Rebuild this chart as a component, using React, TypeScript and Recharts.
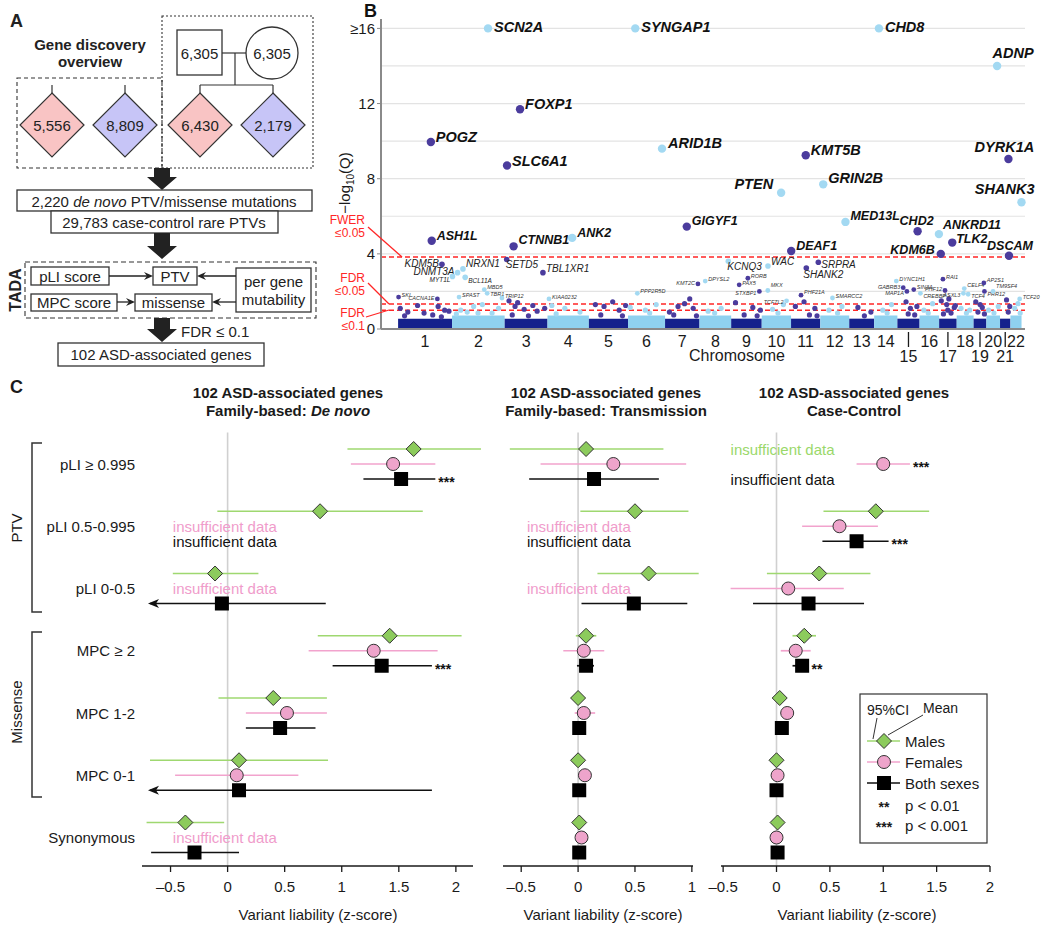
import React from "react";
import {
  ScatterChart,
  Scatter,
  XAxis,
  YAxis,
  ReferenceLine,
  ReferenceArea,
  ReferenceDot,
  ErrorBar,
} from "recharts";

const FONT = '"Liberation Sans", Arial, Helvetica, sans-serif';

// ---------- Panel B data ----------
// chromosome lengths in Mb (hg19)
const CHROM_LENGTHS = [
  249.3, 243.2, 198.0, 191.2, 180.9, 171.1, 159.1, 146.4, 141.2, 135.5, 135.0,
  133.9, 115.2, 107.3, 102.5, 90.4, 81.2, 78.1, 59.1, 63.0, 48.1, 51.3,
];
const CHROMS = CHROM_LENGTHS.map((_, i) => i + 1);
const LOWER_TICK_CHROMS = [15, 17, 19, 21];
const Y_TICKS = [0, 4, 8, 12, 16];
const GRID_Y = [2, 4, 6, 8, 10, 12, 14, 16];
const THRESHOLDS = [3.83, 1.33, 1.0]; // FWER 0.05, FDR 0.05, FDR 0.1

// [gene, chromosome, Mb, -log10(Q)]
const FWER_GENES = [
  ["SCN2A", 2, 166.2, 16],
  ["SYNGAP1", 6, 33.4, 16],
  ["CHD8", 14, 21.9, 16],
  ["ADNP", 20, 49.5, 14.0],
  ["FOXP1", 3, 71.0, 11.7],
  ["POGZ", 1, 151.4, 9.95],
  ["ARID1B", 6, 157.0, 9.6],
  ["KMT5B", 11, 67.9, 9.25],
  ["DYRK1A", 21, 38.8, 9.05],
  ["SLC6A1", 3, 11.0, 8.7],
  ["GRIN2B", 12, 13.7, 7.7],
  ["PTEN", 10, 89.6, 7.25],
  ["SHANK3", 22, 51.1, 6.75],
  ["MED13L", 12, 116.4, 5.7],
  ["GIGYF1", 7, 100.3, 5.45],
  ["CHD2", 15, 93.4, 5.2],
  ["ANKRD11", 16, 89.4, 5.05],
  ["ANK2", 4, 114.0, 4.85],
  ["ASH1L", 1, 155.4, 4.7],
  ["TLK2", 17, 60.6, 4.6],
  ["CTNNB1", 3, 41.2, 4.4],
  ["DEAF1", 11, 0.7, 4.15],
  ["KDM6B", 17, 7.7, 4.0],
  ["DSCAM", 21, 41.4, 3.9],
];

const FDR_GENES = [
  ["SETD5", 3, 9.5, 3.7],
  ["KCNQ3", 8, 133.2, 3.6],
  ["SRPRA", 11, 126.1, 3.55],
  ["KDM5B", 1, 202.7, 3.45],
  ["WAC", 10, 28.8, 3.35],
  ["SHANK2", 11, 70.5, 3.25],
  ["NRXN1", 2, 50.5, 3.2],
  ["DNMT3A", 2, 25.5, 3.0],
  ["TBL1XR1", 3, 176.8, 3.0],
  ["MYT1L", 2, 2.0, 2.8],
  ["BCL11A", 2, 60.7, 2.75],
];

const MINOR_GENES = [
  ["SKI", 1, 2.2, 1.7],
  ["CACNA1E", 1, 181.5, 1.6],
  ["SPAST", 2, 32.3, 1.7],
  ["MBD5", 2, 149.0, 2.1],
  ["TBR1", 2, 162.3, 1.9],
  ["TRIP12", 2, 230.6, 1.65],
  ["KIAA0232", 4, 6.8, 1.6],
  ["PPP2R5D", 6, 42.9, 1.9],
  ["KMT2C", 7, 151.9, 2.4],
  ["DPYSL2", 8, 26.5, 2.55],
  ["PAX5", 9, 37.0, 2.35],
  ["RORB", 9, 77.1, 2.7],
  ["STXBP1", 9, 130.4, 2.0],
  ["MKX", 10, 28.0, 2.05],
  ["TCF7L2", 10, 114.7, 1.5],
  ["PHF21A", 11, 46.0, 1.8],
  ["SMARCC2", 12, 56.5, 1.65],
  ["DYNC1H1", 14, 102.4, 2.55],
  ["GABRB3", 15, 27.0, 2.2],
  ["MAP1A", 15, 43.8, 2.0],
  ["SIN3A", 15, 75.7, 2.1],
  ["CREBBP", 16, 3.8, 1.9],
  ["RAI1", 17, 17.6, 2.65],
  ["PHF12", 17, 27.2, 2.05],
  ["ASXL3", 18, 31.1, 1.9],
  ["CELF4", 18, 35.0, 2.15],
  ["TCF4", 18, 53.0, 1.85],
  ["AP2S1", 19, 47.3, 2.45],
  ["PRR12", 19, 50.1, 2.0],
  ["TM9SF4", 20, 30.7, 2.0],
  ["TCF20", 22, 42.6, 1.6],
];

// unlabeled genes in and just above the dense band: [chromosome, Mb, -log10(Q)]
const BACKGROUND_DOTS = [
  [1, 10, 1.1], [1, 45, 0.9], [1, 90, 1.25], [1, 120, 0.85], [1, 185, 1.2], [1, 215, 1.0], [1, 235, 0.95], [1, 30, 0.7], [1, 160, 0.75], [1, 200, 0.65],
  [2, 40, 1.0], [2, 70, 0.9], [2, 100, 1.2], [2, 140, 1.3], [2, 185, 0.85], [2, 215, 1.1], [2, 20, 0.8], [2, 120, 0.85],
  [3, 20, 1.5], [3, 48, 1.2], [3, 60, 1.4], [3, 90, 1.05], [3, 130, 1.25], [3, 150, 0.95], [3, 185, 1.1], [3, 35, 0.75], [3, 110, 0.7],
  [4, 20, 1.25], [4, 80, 1.1], [4, 150, 0.9], [4, 40, 0.8],
  [5, 30, 1.3], [5, 70, 1.2], [5, 110, 1.45], [5, 140, 1.0], [5, 170, 1.25], [5, 55, 0.75], [5, 155, 0.7],
  [6, 10, 1.15], [6, 80, 1.0], [6, 130, 1.3], [6, 100, 0.85],
  [7, 20, 0.9], [7, 60, 1.2], [7, 90, 1.35], [7, 130, 1.1], [7, 114, 1.6], [7, 40, 0.75], [7, 145, 0.7],
  [8, 40, 0.95], [8, 100, 1.1], [8, 70, 0.85],
  [9, 20, 1.4], [9, 100, 1.15], [9, 135, 1.0], [9, 60, 0.75], [9, 120, 0.7],
  [10, 50, 1.05], [10, 100, 1.3], [10, 75, 0.85],
  [11, 20, 1.2], [11, 60, 1.45], [11, 110, 1.1], [11, 85, 0.75], [11, 120, 0.7],
  [12, 40, 1.0], [12, 100, 1.2], [12, 80, 0.85],
  [13, 40, 1.15], [13, 100, 0.9], [13, 70, 0.7],
  [14, 40, 1.0], [14, 80, 1.3], [14, 60, 0.85],
  [15, 40, 1.45], [15, 60, 1.1], [15, 90, 1.2], [15, 50, 0.8], [15, 80, 0.75],
  [16, 20, 1.0], [16, 60, 1.35], [16, 40, 0.85],
  [17, 10, 1.5], [17, 35, 1.3], [17, 45, 1.6], [17, 70, 1.15], [17, 75, 1.25], [17, 20, 0.8], [17, 55, 0.85], [17, 40, 1.0],
  [18, 20, 1.1], [18, 60, 1.0], [18, 45, 0.85],
  [19, 10, 1.45], [19, 30, 1.3], [19, 40, 1.15], [19, 50, 0.8], [19, 20, 0.9],
  [20, 10, 1.0], [20, 55, 1.2], [20, 35, 0.85],
  [21, 30, 1.55], [21, 45, 1.2], [21, 38, 0.9],
  [22, 20, 1.1], [22, 35, 1.35], [22, 45, 0.85],
];

// ---------- Panel C data ----------
const CATEGORIES = ["pLI ≥ 0.995", "pLI 0.5-0.995", "pLI 0-0.5", "MPC ≥ 2", "MPC 1-2", "MPC 0-1", "Synonymous"];
// [mean, lower 95%CI, upper 95%CI]; null = insufficient data; -Infinity = CI runs off the axis
const DENOVO_MALES = [[1.63, 1.05, 2.22], [0.81, -0.09, 1.71], [-0.11, -0.48, 0.27], [1.42, 0.79, 2.05], [0.4, -0.08, 0.87], [0.1, -0.68, 0.88], [-0.37, -0.71, -0.03]];
const DENOVO_FEMALES = [[1.45, 1.08, 1.82], null, null, [1.28, 0.71, 1.84], [0.52, 0.16, 0.87], [0.08, -0.46, 0.62], null];
const DENOVO_BOTH = [[1.52, 1.19, 1.82], null, [-0.05, -Infinity, 0.86], [1.35, 0.92, 1.79], [0.46, 0.16, 0.77], [0.1, -Infinity, 1.79], [-0.29, -0.67, 0.1]];
const DENOVO_STARS = [["", "", "***"], ["", "", ""], ["", "", ""], ["", "", "***"], ["", "", ""], ["", "", ""], ["", "", ""]];

const TRANS_MALES = [[0.07, -0.6, 0.75], [0.5, 0.02, 0.97], [0.62, 0.17, 1.06], [0.07, -0.02, 0.16], [0.0, -0.03, 0.03], [0.0, -0.02, 0.02], [0.01, -0.02, 0.04]];
const TRANS_FEMALES = [[0.31, -0.33, 0.95], null, null, [0.05, -0.13, 0.23], [0.05, -0.03, 0.15], [0.06, 0.0, 0.11], [0.03, 0.0, 0.07]];
const TRANS_BOTH = [[0.14, -0.43, 0.71], null, [0.49, 0.03, 0.96], [0.07, -0.01, 0.14], [0.01, -0.02, 0.04], [0.01, -0.02, 0.04], [0.01, -0.02, 0.04]];

const CC_MALES = [null, [0.93, 0.44, 1.43], [0.4, -0.09, 0.88], [0.26, 0.15, 0.37], [0.03, -0.01, 0.07], [0.0, -0.03, 0.03], [0.01, -0.02, 0.04]];
const CC_FEMALES = [[1.0, 0.75, 1.25], [0.59, 0.24, 0.95], [0.11, -0.43, 0.63], [0.18, 0.04, 0.32], [0.1, 0.04, 0.16], [0.01, -0.04, 0.07], [0.0, -0.02, 0.02]];
const CC_BOTH = [null, [0.75, 0.43, 1.05], [0.3, -0.22, 0.82], [0.24, 0.15, 0.3], [0.05, 0.01, 0.09], [0.0, -0.02, 0.03], [0.01, -0.02, 0.04]];
const CC_STARS = [["", "***", ""], ["", "", "***"], ["", "", ""], ["", "", "**"], ["", "", ""], ["", "", ""], ["", "", ""]];

// ---------- styling ----------
const BAND_DARK = "#15218c";
const BAND_LIGHT = "#8fd1ef";
const DOT_DARK = "#4b3c9d";
const DOT_LIGHT = "#a3d9f2";
const RED = "#ff2626";
const GREEN_LINE = "#9fd870";
const GREEN_FILL = "#8ccb5c";
const PINK_LINE = "#f2a3cd";
const PINK_FILL = "#eea4cb";
const INK = "#1a1a1a";

const chromStart = (c: number) => CHROM_LENGTHS.slice(0, c - 1).reduce((a, b) => a + b, 0);
const CHROM_CENTERS = CHROMS.map((c) => chromStart(c) + CHROM_LENGTHS[c - 1] / 2);

const genePoint = ([gene, chr, mb, q]: any) => ({ gene, chr, pos: chromStart(chr) + mb, q });
const bgPoint = ([chr, mb, q]: any) => ({ gene: "", chr, pos: chromStart(chr) + mb, q });

// label offsets [dx, dy, anchor, fontSize?]
const LABEL_POS: Record<string, any[]> = {
  SCN2A: [6, -1, "start"], SYNGAP1: [6, -1, "start"], CHD8: [6, -1, "start"],
  ADNP: [16, -13, "middle"], FOXP1: [5, -5, "start"], POGZ: [5, -5, "start"],
  SLC6A1: [5, -5, "start"], ARID1B: [6, -6, "start"], KMT5B: [5, -5, "start"],
  DYRK1A: [-4, -12, "middle"], PTEN: [-8, -9, "end"], GRIN2B: [5, -6, "start"],
  SHANK3: [13, -13, "end"], ASH1L: [5, -5, "start"], CTNNB1: [5, -6, "start"],
  ANK2: [5, -5, "start"], GIGYF1: [5, -6, "start"], MED13L: [5, -6, "start"],
  CHD2: [-1, -10, "middle"], ANKRD11: [4, -9, "start"], TLK2: [4, -4, "start"],
  KDM6B: [-6, -4, "end"], DEAF1: [5, -5, "start"], DSCAM: [1, -10, "middle"],
  KDM5B: [-3, -1, "end"], DNMT3A: [-3, -1, "end"], NRXN1: [3, -5, "start"],
  MYT1L: [-2, 3, "end", 6.5], BCL11A: [3, 3, "start", 6.5], SETD5: [-1, 5, "start"],
  TBL1XR1: [3, -4, "start"], KCNQ3: [-1, 5, "start"], WAC: [3, -5, "start"],
  SRPRA: [3, 2, "start"], SHANK2: [-3, 7, "start"],
  CACNA1E: [-3, -1, "end"], KMT2C: [-3, -1, "end"], GABRB3: [-3, -1, "end"],
  MAP1A: [-3, 2, "end"], PHF12: [-3, -1, "end"], SIN3A: [3, -3, "start"],
  CREBBP: [3, 3, "start"], CELF4: [3, -4, "start"], TCF4: [3, 2, "start"],
  PRR12: [3, 3, "start"], AP2S1: [3, -3, "start"], TM9SF4: [3, -5, "start"],
  MKX: [3, -5, "start"], STXBP1: [-3, 2, "end"], PHF21A: [3, -3, "start"],
  TCF7L2: [-3, 1, "end"], RAI1: [3, -2, "start"], ASXL3: [-3, 2, "end"],
  MBD5: [3, -3, "start"], TBR1: [3, 1, "start"],
};

const makeGeneShape = (r: number, fontSize: number, bold: boolean, fill: string) => (props: any) => {
  const { cx, cy, payload } = props;
  if (cx == null || cy == null) return <g />;
  const color = payload.chr % 2 ? DOT_DARK : DOT_LIGHT;
  const lp = LABEL_POS[payload.gene] || [3, -2, "start"];
  return (
    <g>
      <circle cx={cx} cy={cy} r={r} fill={color} />
      {payload.gene ? (
        <text
          x={cx + lp[0]}
          y={cy + lp[1]}
          textAnchor={lp[2]}
          dominantBaseline="central"
          fontSize={lp[3] || fontSize}
          fontStyle="italic"
          fontWeight={bold ? 700 : 400}
          fill={fill}
        >
          {payload.gene}
        </text>
      ) : null}
    </g>
  );
};

const ChromTick = (props: any) => {
  const { x, y, payload } = props;
  const idx = CHROM_CENTERS.findIndex((c) => Math.abs(c - payload.value) < 1e-6);
  const n = idx + 1;
  const low = LOWER_TICK_CHROMS.includes(n);
  return (
    <g>
      {low && <line x1={x} x2={x} y1={y + 3} y2={y + 18} stroke={INK} strokeWidth={1.3} />}
      <text x={x} y={low ? y + 27 : y + 12} textAnchor="middle" dominantBaseline="central" fontSize={16} fill={INK}>
        {n}
      </text>
    </g>
  );
};

function ManhattanChart() {
  const topBig = FWER_GENES.filter((g) => (g[3] as number) >= 6.5).map(genePoint);
  const topSmall = FWER_GENES.filter((g) => (g[3] as number) < 6.5).map(genePoint);
  return (
    <ScatterChart width={720} height={374} margin={{ top: 19, right: 25, bottom: 0, left: 21 }}>
      <XAxis
        type="number"
        dataKey="pos"
        domain={[-79, 2897]}
        ticks={CHROM_CENTERS}
        interval={0}
        tick={(p: any) => <ChromTick {...p} />}
        tickLine={false}
        tickSize={0}
        tickMargin={0}
        axisLine={{ stroke: "#8a8a8a", strokeWidth: 2 }}
        height={45}
      />
      <YAxis
        type="number"
        dataKey="q"
        domain={[0, 16.5]}
        ticks={Y_TICKS}
        interval={0}
        tickFormatter={(v: number) => (v === 16 ? "≥16" : String(v))}
        width={30}
        axisLine={{ stroke: "#8a8a8a", strokeWidth: 2 }}
        tickLine={{ stroke: "#8a8a8a" }}
        tickSize={4}
        tickMargin={2}
        tick={{ fill: INK, fontSize: 15 }}
      />
      {GRID_Y.map((v) => (
        <ReferenceLine key={`g${v}`} y={v} stroke="#e3e3e3" strokeWidth={1.2} />
      ))}
      {CHROMS.map((c) => (
        <ReferenceArea
          key={`band${c}`}
          x1={chromStart(c)}
          x2={chromStart(c) + CHROM_LENGTHS[c - 1]}
          y1={0}
          y2={c % 2 ? 0.55 : 0.72}
          fill={c % 2 ? BAND_DARK : BAND_LIGHT}
          fillOpacity={1}
          stroke="none"
        />
      ))}
      {THRESHOLDS.map((t) => (
        <ReferenceLine key={`t${t}`} y={t} stroke={RED} strokeDasharray="5 3" strokeWidth={1.6} />
      ))}
      <Scatter data={BACKGROUND_DOTS.map(bgPoint)} shape={makeGeneShape(2.6, 5, false, "#333")} isAnimationActive={false} />
      <Scatter data={MINOR_GENES.map(genePoint)} shape={makeGeneShape(2.4, 5.5, false, "#333")} isAnimationActive={false} />
      <Scatter data={FDR_GENES.map(genePoint)} shape={makeGeneShape(2.8, 10, false, "#222")} isAnimationActive={false} />
      <Scatter data={topSmall} shape={makeGeneShape(4.2, 12.5, true, "#111")} isAnimationActive={false} />
      <Scatter data={topBig} shape={makeGeneShape(4.2, 14.5, true, "#111")} isAnimationActive={false} />
    </ScatterChart>
  );
}

// ---------- Panel C ----------
const yPos = (cat: number, sex: number) => cat * 4.15 + sex;

const diamondShape = (p: any) => {
  const { cx, cy } = p;
  const s = 7.5;
  return <path d={`M${cx},${cy - s} L${cx + s},${cy} L${cx},${cy + s} L${cx - s},${cy} Z`} fill={GREEN_FILL} stroke="#333" strokeWidth={1} />;
};
const circleShape = (p: any) => <circle cx={p.cx} cy={p.cy} r={6.5} fill={PINK_FILL} stroke="#333" strokeWidth={1} />;
const squareShape = (p: any) => <rect x={p.cx - 7} y={p.cy - 7} width={14} height={14} fill="#000" />;

const SEXES = [
  { line: GREEN_LINE, text: "#9ad86a", shape: diamondShape },
  { line: PINK_LINE, text: "#f09ccb", shape: circleShape },
  { line: "#111", text: "#111", shape: squareShape },
];

const FOREST = [
  { left: 100, width: 400, ml: 42, mr: 27, domain: [-0.75, 2.15], ticks: [-0.5, 0, 0.5, 1, 1.5, 2], insuffX: -0.48, rows: [DENOVO_MALES, DENOVO_FEMALES, DENOVO_BOTH], stars: DENOVO_STARS },
  { left: 480, width: 240, ml: 23, mr: 27, domain: [-0.66, 1.01], ticks: [-0.5, 0, 0.5, 1], insuffX: -0.45, rows: [TRANS_MALES, TRANS_FEMALES, TRANS_BOTH], stars: null },
  { left: 700, width: 340, ml: 21, mr: 50, domain: [-0.52, 2.0], ticks: [-0.5, 0, 0.5, 1, 1.5, 2], insuffX: -0.43, rows: [CC_MALES, CC_FEMALES, CC_BOTH], stars: CC_STARS },
];

const fmtTick = (v: number) => (v < 0 ? `–${Math.abs(v)}` : String(v));

function ForestPlot({ cfg }: any) {
  const arrowX = cfg.domain[0] + 0.07;
  const seriesData = cfg.rows.map((rows: any[], sex: number) =>
    rows
      .map((r: any, cat: number) => {
        if (!r) return null;
        const lo = Number.isFinite(r[1]) ? r[1] : arrowX;
        return { x: r[0], y: yPos(cat, sex), err: [r[0] - lo, r[2] - r[0]] };
      })
      .filter(Boolean)
  );
  const extras: any[] = [];
  cfg.rows.forEach((rows: any[], sex: number) =>
    rows.forEach((r: any, cat: number) => {
      const y = yPos(cat, sex);
      if (!r) {
        extras.push(
          <ReferenceDot
            key={`ins${sex}-${cat}`}
            x={cfg.insuffX}
            y={y}
            r={0}
            shape={(p: any) => (
              <text x={p.cx} y={p.cy} dominantBaseline="central" fontSize={15} fill={SEXES[sex].text}>
                insufficient data
              </text>
            )}
          />
        );
        return;
      }
      if (!Number.isFinite(r[1])) {
        extras.push(
          <ReferenceDot
            key={`arr${sex}-${cat}`}
            x={arrowX}
            y={y}
            r={0}
            shape={(p: any) => (
              <path d={`M${p.cx - 2},${p.cy} L${p.cx + 9},${p.cy - 4.5} L${p.cx + 6},${p.cy} L${p.cx + 9},${p.cy + 4.5} Z`} fill="#111" />
            )}
          />
        );
      }
      const star = cfg.stars ? cfg.stars[cat][sex] : "";
      if (star) {
        extras.push(
          <ReferenceDot
            key={`st${sex}-${cat}`}
            x={r[2]}
            y={y}
            r={0}
            shape={(p: any) => (
              <text x={p.cx + 3} y={p.cy + 8} fontSize={14} fontWeight={700} fill="#111">
                {star}
              </text>
            )}
          />
        );
      }
    })
  );
  return (
    <ScatterChart width={cfg.width} height={506} margin={{ top: 12.5, right: cfg.mr, bottom: 0, left: cfg.ml }}>
      <XAxis
        type="number"
        dataKey="x"
        domain={cfg.domain}
        allowDataOverflow
        ticks={cfg.ticks}
        interval={0}
        tickFormatter={fmtTick}
        tick={{ fill: INK, fontSize: 15 }}
        tickSize={6}
        tickMargin={9}
        tickLine={{ stroke: INK, strokeWidth: 1.3 }}
        axisLine={{ stroke: INK, strokeWidth: 1.5 }}
        height={60}
      />
      <YAxis type="number" dataKey="y" domain={[-1.1, 27.8]} reversed hide allowDataOverflow />
      <ReferenceLine x={0} stroke="#d0d0d0" strokeWidth={1.6} />
      {seriesData.map((d: any[], sex: number) => (
        <Scatter key={`s${sex}`} data={d} shape={SEXES[sex].shape} isAnimationActive={false}>
          <ErrorBar dataKey="err" direction="x" width={0} stroke={SEXES[sex].line} strokeWidth={1.7} />
        </Scatter>
      ))}
      {extras}
    </ScatterChart>
  );
}

// ---------- static diagram / annotations ----------
function DownArrow({ x, y1, y2 }: any) {
  const h = 13;
  return (
    <path
      d={`M${x - 8},${y1} L${x + 8},${y1} L${x + 8},${y2 - h} L${x + 15},${y2 - h} L${x},${y2} L${x - 15},${y2 - h} L${x - 8},${y2 - h} Z`}
      fill="#222"
    />
  );
}

function SmallArrow({ x1, x2, y }: any) {
  const dir = x2 > x1 ? 1 : -1;
  return (
    <g>
      <line x1={x1} x2={x2 - dir * 4} y1={y} y2={y} stroke="#222" strokeWidth={1.3} />
      <path d={`M${x2},${y} L${x2 - dir * 9},${y - 4} L${x2 - dir * 6},${y} L${x2 - dir * 9},${y + 4} Z`} fill="#222" />
    </g>
  );
}

function Diamond({ cx, cy, fill, label }: any) {
  const s = 32;
  return (
    <g>
      <path d={`M${cx},${cy - s} L${cx + s},${cy} L${cx},${cy + s} L${cx - s},${cy} Z`} fill={fill} stroke="#333" strokeWidth={1.2} />
      <text x={cx} y={cy} textAnchor="middle" dominantBaseline="central" fontSize={15} fill="#222">
        {label}
      </text>
    </g>
  );
}

function PanelA() {
  const box = { fill: "#fff", stroke: "#333", strokeWidth: 1.3 };
  return (
    <g fill="#222">
      <text x={10} y={27} fontSize={18} fontWeight={700}>A</text>
      <text x={90} y={50} textAnchor="middle" fontSize={15} fontWeight={700}>Gene discovery</text>
      <text x={90} y={67} textAnchor="middle" fontSize={15} fontWeight={700}>overview</text>
      <rect x={17} y={78} width={145} height={90} fill="none" stroke="#333" strokeWidth={1.1} strokeDasharray="4 3" />
      <rect x={162} y={16} width={151} height={152} fill="none" stroke="#333" strokeWidth={1.1} strokeDasharray="2 2" />
      <rect x={177} y={30} width={45} height={45} {...box} />
      <text x={199.5} y={53} textAnchor="middle" dominantBaseline="central" fontSize={15}>6,305</text>
      <circle cx={272} cy={53} r={26} {...box} />
      <text x={272} y={53} textAnchor="middle" dominantBaseline="central" fontSize={15}>6,305</text>
      <g stroke="#333" strokeWidth={1.2}>
        <line x1={222} x2={246} y1={53} y2={53} />
        <line x1={235} x2={235} y1={53} y2={85} />
        <line x1={200} x2={273} y1={85} y2={85} />
        <line x1={200} x2={200} y1={85} y2={93} />
        <line x1={273} x2={273} y1={85} y2={93} />
        <line x1={52} x2={52} y1={85} y2={93} />
        <line x1={125} x2={125} y1={85} y2={93} />
      </g>
      <Diamond cx={52} cy={125} fill="#f9c4c4" label="5,556" />
      <Diamond cx={125} cy={125} fill="#c7c5f7" label="8,809" />
      <Diamond cx={200} cy={125} fill="#f9c4c4" label="6,430" />
      <Diamond cx={273} cy={125} fill="#c7c5f7" label="2,179" />
      <DownArrow x={162} y1={168} y2={190} />
      <rect x={17} y={190} width={295} height={21} {...box} />
      <text x={164} y={201} textAnchor="middle" dominantBaseline="central" fontSize={15}>
        2,220 <tspan fontStyle="italic">de novo</tspan> PTV/missense mutations
      </text>
      <rect x={51} y={211} width={227} height={22} {...box} />
      <text x={164} y={222} textAnchor="middle" dominantBaseline="central" fontSize={15}>29,783 case-control rare PTVs</text>
      <DownArrow x={162} y1={233} y2={259} />
      <rect x={25} y={262} width={291} height={56} fill="none" stroke="#333" strokeWidth={1.1} strokeDasharray="5 3" />
      <text transform="translate(21,290) rotate(-90)" textAnchor="middle" fontSize={16} fontWeight={700}>TADA</text>
      <rect x={31} y={267} width={78} height={18} {...box} />
      <text x={70} y={276} textAnchor="middle" dominantBaseline="central" fontSize={15}>pLI score</text>
      <rect x={153} y={267} width={44} height={18} {...box} />
      <text x={175} y={276} textAnchor="middle" dominantBaseline="central" fontSize={15}>PTV</text>
      <rect x={236} y={268} width={75} height={44} {...box} />
      <text x={273.5} y={281} textAnchor="middle" dominantBaseline="central" fontSize={15}>per gene</text>
      <text x={273.5} y={299} textAnchor="middle" dominantBaseline="central" fontSize={15}>mutability</text>
      <rect x={31} y={294} width={86} height={17} {...box} />
      <text x={74} y={302.5} textAnchor="middle" dominantBaseline="central" fontSize={15}>MPC score</text>
      <rect x={135} y={294} width={77} height={17} {...box} />
      <text x={173.5} y={302.5} textAnchor="middle" dominantBaseline="central" fontSize={15}>missense</text>
      <SmallArrow x1={109} x2={153} y={276} />
      <SmallArrow x1={236} x2={197} y={276} />
      <SmallArrow x1={117} x2={135} y={302} />
      <SmallArrow x1={236} x2={212} y={302} />
      <DownArrow x={162} y1={318} y2={342} />
      <text x={181} y={331} dominantBaseline="central" fontSize={15}>FDR ≤ 0.1</text>
      <rect x={58} y={343} width={206} height={23} {...box} />
      <text x={161} y={354.5} textAnchor="middle" dominantBaseline="central" fontSize={15}>102 ASD-associated genes</text>
    </g>
  );
}

function PanelBDecor() {
  return (
    <g>
      <text x={364} y={17} fontSize={18} fontWeight={700} fill="#111">B</text>
      <text transform="translate(350,183) rotate(-90)" textAnchor="middle" fontSize={15} fill={INK}>
        −log<tspan fontSize={10} dy={4}>10</tspan>
        <tspan dy={-4}>(Q)</tspan>
      </text>
      <g fill={RED} fontSize={12} textAnchor="end">
        <text x={365} y={224}>FWER</text>
        <text x={365} y={237}>≤0.05</text>
        <text x={365} y={282}>FDR</text>
        <text x={365} y={295}>≤0.05</text>
        <text x={365} y={317}>FDR</text>
        <text x={365} y={330}>≤0.1</text>
      </g>
      <g stroke={RED} strokeWidth={1.3}>
        <line x1={368} y1={227} x2={402} y2={257} />
        <line x1={368} y1={283} x2={389} y2={304} />
        <line x1={366} y1={317} x2={389} y2={310} />
      </g>
      <text x={737} y={361} textAnchor="middle" fontSize={16} fill={INK}>Chromosome</text>
    </g>
  );
}

function PanelCDecor() {
  const titles = [
    { x: 288, sub: <>Family-based: <tspan fontStyle="italic">De novo</tspan></> },
    { x: 606, sub: <>Family-based: Transmission</> },
    { x: 854, sub: <>Case-Control</> },
  ];
  const rowY = (cat: number) => 449 + yPos(cat, 1) * 15;
  return (
    <g fill={INK}>
      <text x={10} y={393} fontSize={18} fontWeight={700}>C</text>
      {titles.map((t, i) => (
        <g key={i} fontWeight={700} fontSize={15} textAnchor="middle">
          <text x={t.x} y={398}>102 ASD-associated genes</text>
          <text x={t.x} y={416}>{t.sub}</text>
        </g>
      ))}
      {CATEGORIES.map((c, i) => (
        <text key={c} x={135} y={rowY(i)} textAnchor="end" dominantBaseline="central" fontSize={15}>
          {c}
        </text>
      ))}
      <g stroke="#333" strokeWidth={1.5} fill="none">
        <path d="M42,443 H32 V612 H42" />
        <path d="M42,632 H32 V797 H42" />
      </g>
      <text transform="translate(16,528) rotate(-90)" textAnchor="middle" dominantBaseline="central" fontSize={15}>PTV</text>
      <text transform="translate(16,712) rotate(-90)" textAnchor="middle" dominantBaseline="central" fontSize={15}>Missense</text>
      {[318, 603, 857].map((x) => (
        <text key={x} x={x} y={920} textAnchor="middle" fontSize={15}>
          Variant liability (z-score)
        </text>
      ))}
      {/* legend */}
      <rect x={860} y={694} width={127} height={149} fill="#fff" stroke="#333" strokeWidth={1.2} />
      <text x={867} y={710} dominantBaseline="central" fontSize={14}>95%CI</text>
      <text x={923} y={708} dominantBaseline="central" fontSize={14}>Mean</text>
      <line x1={877} y1={718} x2={873} y2={739} stroke="#333" strokeWidth={1} />
      <line x1={923} y1={715} x2={888} y2={735} stroke="#333" strokeWidth={1} />
      <line x1={867} x2={900} y1={741} y2={741} stroke={GREEN_LINE} strokeWidth={1.7} />
      {diamondShape({ cx: 884, cy: 741 })}
      <text x={905} y={741} dominantBaseline="central" fontSize={15}>Males</text>
      <line x1={867} x2={900} y1={762} y2={762} stroke={PINK_LINE} strokeWidth={1.7} />
      {circleShape({ cx: 884, cy: 762 })}
      <text x={905} y={762} dominantBaseline="central" fontSize={15}>Females</text>
      <line x1={867} x2={900} y1={783} y2={783} stroke="#111" strokeWidth={1.7} />
      {squareShape({ cx: 884, cy: 783 })}
      <text x={905} y={783} dominantBaseline="central" fontSize={15}>Both sexes</text>
      <text x={884} y={812} textAnchor="middle" fontSize={14} fontWeight={700}>**</text>
      <text x={905} y={805} dominantBaseline="central" fontSize={15}>p &lt; 0.01</text>
      <text x={884} y={832} textAnchor="middle" fontSize={14} fontWeight={700}>***</text>
      <text x={905} y={825} dominantBaseline="central" fontSize={15}>p &lt; 0.001</text>
    </g>
  );
}

export default function App() {
  return (
    <div
      style={{
        position: "absolute",
        left: 0,
        top: 0,
        width: 1050,
        height: 933,
        background: "#fff",
        fontFamily: FONT,
        overflow: "hidden",
      }}
    >
      <div style={{ position: "absolute", left: 330, top: 0 }}>
        <ManhattanChart />
      </div>
      {FOREST.map((cfg, i) => (
        <div key={i} style={{ position: "absolute", left: cfg.left, top: 420 }}>
          <ForestPlot cfg={cfg} />
        </div>
      ))}
      <svg
        width={1050}
        height={933}
        style={{ position: "absolute", left: 0, top: 0, pointerEvents: "none" }}
        fontFamily={FONT}
      >
        <PanelA />
        <PanelBDecor />
        <PanelCDecor />
      </svg>
    </div>
  );
}
